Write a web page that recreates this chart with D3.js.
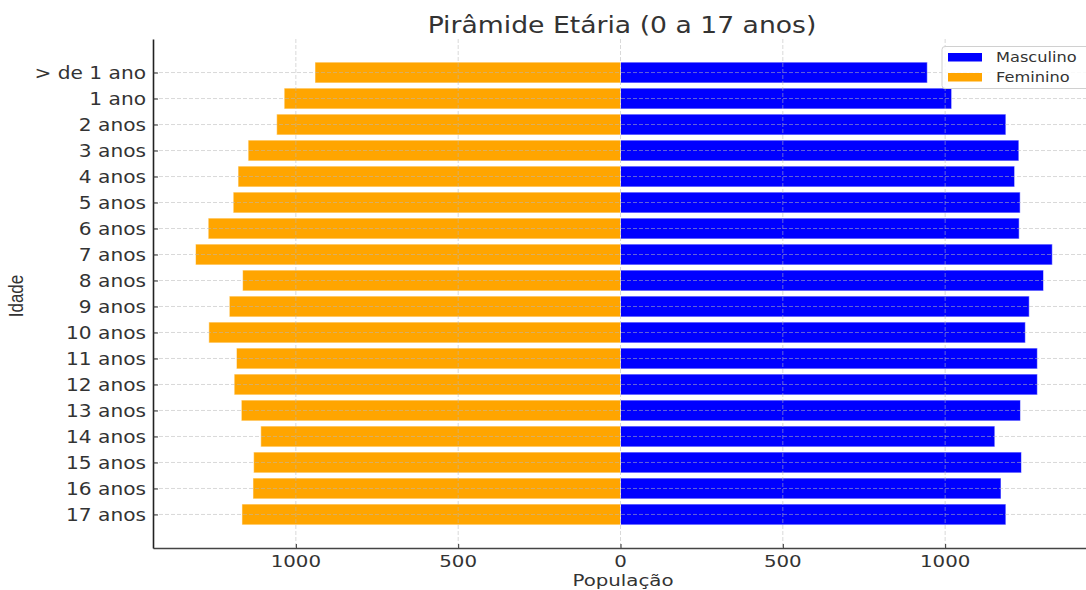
<!DOCTYPE html>
<html>
<head>
<meta charset="utf-8">
<script src="https://cdn.jsdelivr.net/npm/d3@7"></script>
<style>
  html, body { margin: 0; padding: 0; background: #fff; }
  svg text { font-family: "DejaVu Sans", sans-serif; fill: #333; }
</style>
</head>
<body>
<div id="chart"></div>
<script>
// faixas etárias (de cima para baixo)
var idades = ['> de 1 ano', '1 ano', '2 anos', '3 anos', '4 anos', '5 anos', '6 anos', '7 anos', '8 anos',
  '9 anos', '10 anos', '11 anos', '12 anos', '13 anos', '14 anos', '15 anos', '16 anos', '17 anos'];

var masculino = [945, 1020, 1187, 1227, 1214, 1231, 1228, 1330, 1303,
  1259, 1247, 1284, 1284, 1232, 1153, 1235, 1172, 1187];

var feminino = [941, 1036, 1059, 1147, 1178, 1193, 1270, 1309, 1164,
  1205, 1268, 1183, 1190, 1168, 1108, 1130, 1132, 1166];

var xTicks = [-1000, -500, 0, 500, 1000];

var W = 1086, H = 590;
var SX = 1.2; // o gráfico original está esticado na horizontal

var svg = d3.select('#chart').append('svg')
  .attr('width', W)
  .attr('height', H);

var xScale = d3.scaleLinear()
  .domain([-1440, 1440])
  .range([153, 1088]);

var yScale = d3.scaleLinear()
  .domain([-1.29, 18.29])
  .range([39, 548]);

var step = yScale(1) - yScale(0);
var barH = step * 0.8;

// texto esticado como no original
function stretched(g, x, y, txt, size, anchor, rotate) {
  var t = g.append('text')
    .attr('transform', 'translate(' + x + ',' + y + ') scale(' + SX + ',1)' + (rotate ? ' rotate(' + rotate + ')' : ''))
    .attr('text-anchor', anchor)
    .style('font-size', size + 'px')
    .text(txt);
  return t;
}

// barras masculino
svg.selectAll('.masc')
  .data(masculino)
  .enter()
  .append('rect')
  .attr('x', xScale(0))
  .attr('y', function(d, i) { return yScale(i) - barH / 2; })
  .attr('width', function(d) { return xScale(d) - xScale(0); })
  .attr('height', barH)
  .attr('fill', '#0000ff')
  .attr('stroke', 'rgba(255,255,255,0.55)')
  .attr('stroke-width', 1);

// barras feminino (valores negativos)
svg.selectAll('.fem')
  .data(feminino)
  .enter()
  .append('rect')
  .attr('x', function(d) { return xScale(-d); })
  .attr('y', function(d, i) { return yScale(i) - barH / 2; })
  .attr('width', function(d) { return xScale(0) - xScale(-d); })
  .attr('height', barH)
  .attr('fill', '#ffa500')
  .attr('stroke', 'rgba(255,255,255,0.55)')
  .attr('stroke-width', 1);

// grade tracejada por cima
var grid = svg.append('g')
  .attr('stroke', '#b8b8b8')
  .attr('stroke-opacity', 0.6)
  .attr('stroke-dasharray', '4,2')
  .attr('stroke-width', 0.9);

grid.selectAll('.gx')
  .data(xTicks)
  .enter()
  .append('line')
  .attr('x1', function(d) { return xScale(d); })
  .attr('x2', function(d) { return xScale(d); })
  .attr('y1', 39)
  .attr('y2', 548);

grid.selectAll('.gy')
  .data(idades)
  .enter()
  .append('line')
  .attr('x1', 153)
  .attr('x2', 1088)
  .attr('y1', function(d, i) { return yScale(i); })
  .attr('y2', function(d, i) { return yScale(i); });

// eixo x
var xAxis = d3.axisBottom(xScale)
  .tickValues(xTicks)
  .tickSizeInner(-4)
  .tickSizeOuter(0)
  .tickFormat('');

var gx = svg.append('g')
  .attr('transform', 'translate(0,548)')
  .call(xAxis);
gx.select('.domain').attr('stroke', '#444').attr('stroke-width', 1.3);
gx.selectAll('.tick line').attr('stroke', '#333');

xTicks.forEach(function(v) {
  stretched(svg, xScale(v), 567, d3.format('d')(Math.abs(v)), 16.5, 'middle');
});

// eixo y
var yAxis = d3.axisLeft(yScale)
  .tickValues(d3.range(idades.length))
  .tickSizeInner(-5)
  .tickSizeOuter(0)
  .tickFormat('');

var gy = svg.append('g')
  .attr('transform', 'translate(153,0)')
  .call(yAxis);
gy.select('.domain').attr('stroke', '#222').attr('stroke-width', 1.6);
gy.selectAll('.tick line').attr('stroke', '#333');

idades.forEach(function(lbl, i) {
  stretched(svg, 146, yScale(i) + 6.8, lbl, 16.8, 'end');
});

// títulos
stretched(svg, 622, 33, 'Pirâmide Etária (0 a 17 anos)', 22.2, 'middle');
stretched(svg, 623, 586, 'População', 16.5, 'middle');
stretched(svg, 23, 296, 'Idade', 17, 'middle', -90)
  .style('font-family', '"Liberation Sans", sans-serif');

// legenda
var leg = svg.append('g');
leg.append('rect')
  .attr('x', 942)
  .attr('y', 46.5)
  .attr('width', 160)
  .attr('height', 42)
  .attr('rx', 3)
  .attr('fill', 'rgba(255,255,255,0.85)')
  .attr('stroke', '#d0d0d0');

var legItems = [{ nome: 'Masculino', cor: '#0000ff' }, { nome: 'Feminino', cor: '#ffa500' }];
legItems.forEach(function(it, i) {
  leg.append('rect')
    .attr('x', 948)
    .attr('y', 53 + i * 20)
    .attr('width', 34)
    .attr('height', 8.5)
    .attr('fill', it.cor);
  stretched(leg, 996, 62 + i * 20, it.nome, 13.5, 'start');
});
</script>
</body>
</html>
